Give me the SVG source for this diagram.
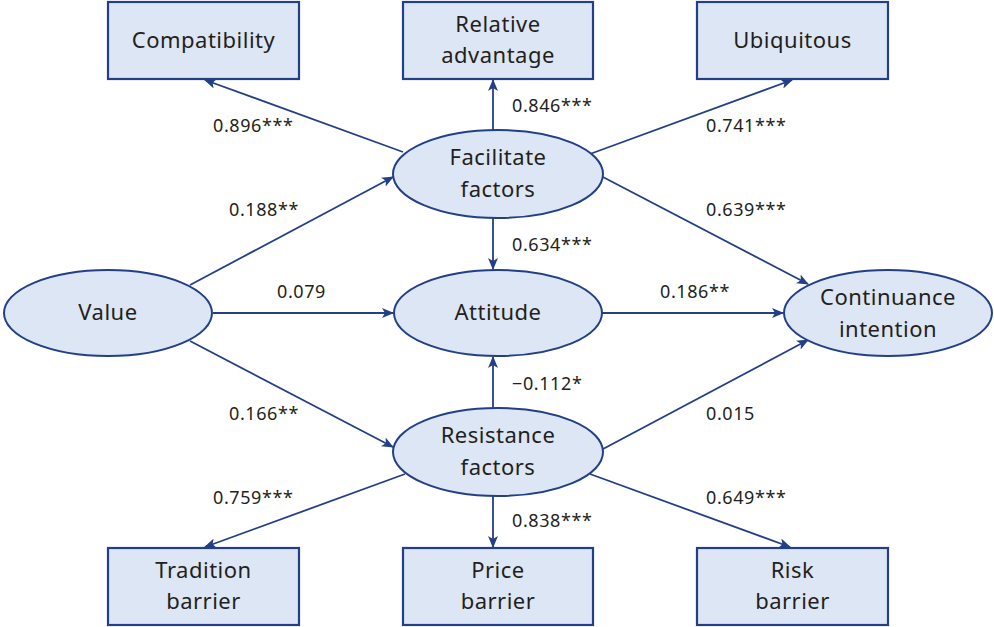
<svg xmlns="http://www.w3.org/2000/svg" width="994" height="627" viewBox="0 0 994 627">
<style>
.box{fill:#dde6f4;stroke:#233f87;stroke-width:2.2}
.ell{fill:#dde6f4;stroke:#233f87;stroke-width:2}
.t{font-family:"Noto Sans","Liberation Sans",sans-serif;font-size:22px;letter-spacing:0.5px;fill:#231f20;text-anchor:middle}
.n{font-family:"Noto Sans","Liberation Sans",sans-serif;font-size:18px;letter-spacing:0.6px;fill:#231f20}
.c line{stroke:#233f87;stroke-width:1.8;marker-end:url(#ah)}
</style>
<defs>
<marker id="ah" viewBox="0 0 12 10" refX="11" refY="5" markerWidth="12" markerHeight="10" markerUnits="userSpaceOnUse" orient="auto">
<path d="M0,0 L12,5 L0,10 L3,5 Z" fill="#233f87"/>
</marker>
</defs>
<rect width="994" height="627" fill="#ffffff"/>
<g class="c" id="connectors">
<line x1="403" y1="152" x2="205" y2="80"/>
<line x1="493" y1="130" x2="493" y2="80"/>
<line x1="590" y1="154" x2="792" y2="80"/>
<line x1="601" y1="176" x2="808" y2="284"/>
<line x1="493" y1="218" x2="493" y2="269"/>
<line x1="190" y1="285" x2="393" y2="177"/>
<line x1="213" y1="313" x2="393" y2="313"/>
<line x1="190" y1="341" x2="393" y2="447"/>
<line x1="602" y1="313" x2="783" y2="313"/>
<line x1="493" y1="408" x2="493" y2="357"/>
<line x1="603" y1="449" x2="808" y2="340"/>
<line x1="405" y1="474" x2="205" y2="547"/>
<line x1="493" y1="496" x2="493" y2="547"/>
<line x1="590" y1="474" x2="790" y2="547"/>
</g>
<g id="compatibility"><rect class="box" x="108" y="2" width="191" height="77"/><text class="t" x="203.5" y="48">Compatibility</text></g>
<g id="relative"><rect class="box" x="403" y="2" width="190" height="77"/><text class="t" x="498" y="32">Relative</text><text class="t" x="498" y="63">advantage</text></g>
<g id="ubiquitous"><rect class="box" x="697" y="2" width="191" height="77"/><text class="t" x="792.5" y="48">Ubiquitous</text></g>
<g id="facilitate"><ellipse class="ell" cx="498" cy="174" rx="105" ry="44"/><text class="t" x="498" y="165">Facilitate</text><text class="t" x="498" y="197">factors</text></g>
<g id="value"><ellipse class="ell" cx="108" cy="313" rx="104" ry="43"/><text class="t" x="108" y="320">Value</text></g>
<g id="attitude"><ellipse class="ell" cx="498" cy="313" rx="104" ry="43"/><text class="t" x="498" y="320">Attitude</text></g>
<g id="continuance"><ellipse class="ell" cx="888" cy="313" rx="104" ry="43"/><text class="t" x="888" y="305">Continuance</text><text class="t" x="888" y="337">intention</text></g>
<g id="resistance"><ellipse class="ell" cx="498" cy="452" rx="105" ry="44"/><text class="t" x="498" y="443">Resistance</text><text class="t" x="498" y="475">factors</text></g>
<g id="tradition"><rect class="box" x="108" y="548" width="191" height="77"/><text class="t" x="203.5" y="578">Tradition</text><text class="t" x="203.5" y="609">barrier</text></g>
<g id="price"><rect class="box" x="403" y="548" width="190" height="77"/><text class="t" x="498" y="578">Price</text><text class="t" x="498" y="609">barrier</text></g>
<g id="risk"><rect class="box" x="697" y="548" width="191" height="77"/><text class="t" x="792.5" y="578">Risk</text><text class="t" x="792.5" y="609">barrier</text></g>
<g id="labels">
<text class="n" x="213" y="132">0.896***</text>
<text class="n" x="512" y="112">0.846***</text>
<text class="n" x="706" y="132">0.741***</text>
<text class="n" x="229" y="216">0.188**</text>
<text class="n" x="512" y="251">0.634***</text>
<text class="n" x="706" y="216">0.639***</text>
<text class="n" x="277" y="298">0.079</text>
<text class="n" x="660" y="298">0.186**</text>
<text class="n" x="512" y="390">−0.112*</text>
<text class="n" x="229" y="420">0.166**</text>
<text class="n" x="706" y="420">0.015</text>
<text class="n" x="213" y="504">0.759***</text>
<text class="n" x="512" y="527">0.838***</text>
<text class="n" x="706" y="504">0.649***</text>
</g>
</svg>
